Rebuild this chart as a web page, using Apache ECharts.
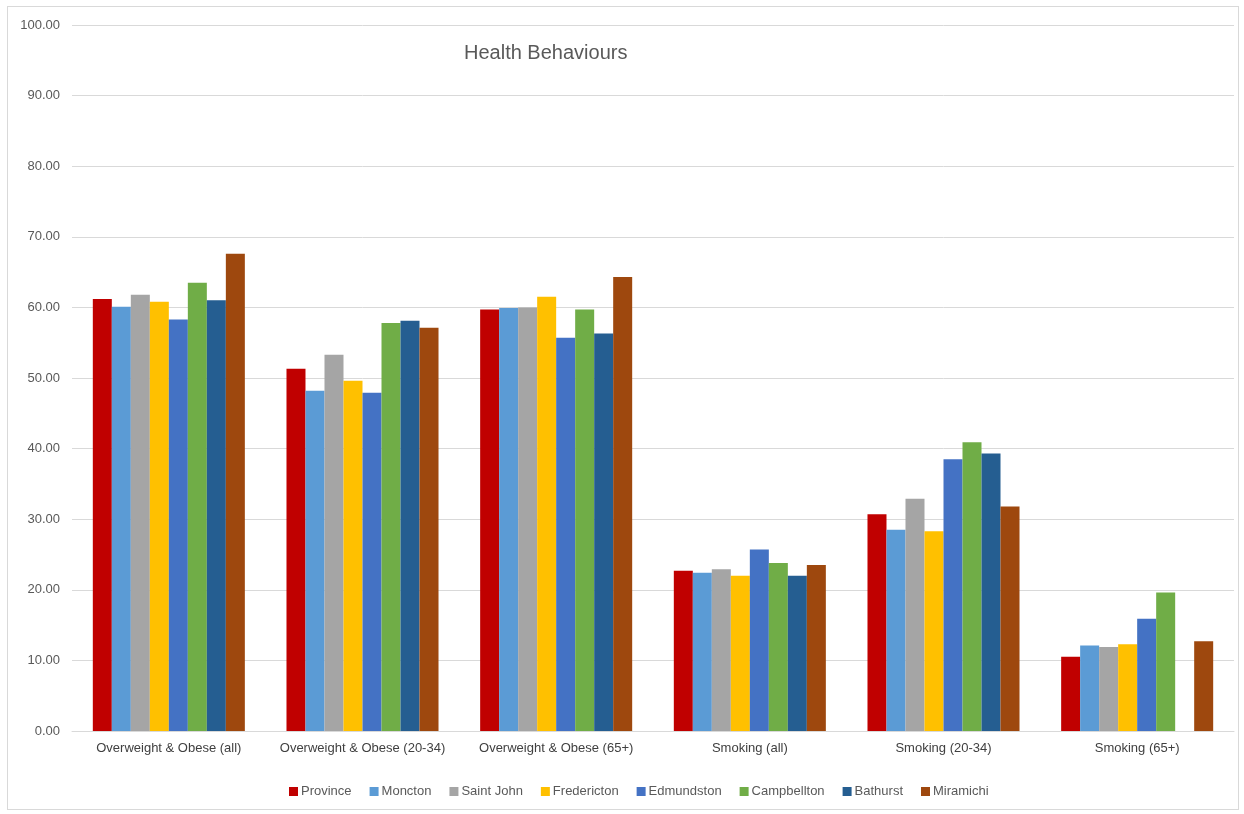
<!DOCTYPE html>
<html>
<head>
<meta charset="utf-8">
<script src="https://cdn.jsdelivr.net/npm/echarts@6/dist/echarts.min.js"></script>
<style>
  html, body { margin: 0; padding: 0; background: #fff; }
  #frame { position: absolute; left: 7px; top: 6px; width: 1232px; height: 804px; border: 1px solid #d9d9d9; box-sizing: border-box; }
  #echart { position: absolute; left: 0; top: 0; width: 1244px; height: 814px; }
</style>
</head>
<body>
<div id="frame"></div>
<div id="echart"></div>
<script type="text/javascript">
var categories = ['Overweight & Obese (all)', 'Overweight & Obese (20-34)', 'Overweight & Obese (65+)', 'Smoking (all)', 'Smoking (20-34)', 'Smoking (65+)'];
var yTicks = [0, 100, 10];   // min, max, interval

var province    = [61.2, 51.3, 59.7, 22.7, 30.7, 10.5];
var moncton     = [60.1, 48.2, 59.9, 22.4, 28.5, 12.1];
var saintJohn   = [61.8, 53.3, 60.0, 22.9, 32.9, 11.9];
var fredericton = [60.8, 49.6, 61.5, 22.0, 28.3, 12.3];
var edmundston  = [58.3, 47.9, 55.7, 25.7, 38.5, 15.9];
var campbellton = [63.5, 57.8, 59.7, 23.8, 40.9, 19.6];
var bathurst    = [61.0, 58.1, 56.3, 22.0, 39.3, null];
var miramichi   = [67.6, 57.1, 64.3, 23.5, 31.8, 12.7];

var seriesList = [
  { name: 'Province', data: province, color: '#C00000' },
  { name: 'Moncton', data: moncton, color: '#5B9BD5' },
  { name: 'Saint John', data: saintJohn, color: '#A5A5A5' },
  { name: 'Fredericton', data: fredericton, color: '#FFC000' },
  { name: 'Edmundston', data: edmundston, color: '#4472C4' },
  { name: 'Campbellton', data: campbellton, color: '#70AD47' },
  { name: 'Bathurst', data: bathurst, color: '#255E91' },
  { name: 'Miramichi', data: miramichi, color: '#9E480E' }
];

var myChart = echarts.init(document.getElementById('echart'));
var fontFam = '"Liberation Sans", Arial, sans-serif';

var option = {
  animation: false,
  textStyle: { fontFamily: fontFam },
  title: {
    text: 'Health Behaviours',
    left: 459,
    top: 38,
    textStyle: { fontSize: 20, fontWeight: 'normal', color: '#595959', fontFamily: fontFam }
  },
  legend: {
    bottom: 11,
    left: 284,
    itemWidth: 9,
    itemHeight: 9,
    itemGap: 18,
    icon: 'rect',
    textStyle: { fontSize: 13, color: '#595959', fontFamily: fontFam, padding: [0, 0, 0, -2] },
    data: seriesList.map(function (s) { return s.name; })
  },
  grid: { left: 72, right: 10, top: 25, bottom: 83, containLabel: false },
  xAxis: {
    type: 'category',
    data: categories,
    axisLine: { show: true, lineStyle: { color: '#d9d9d9' } },
    axisTick: { show: false },
    axisLabel: { color: '#404040', fontSize: 13, margin: 11, interval: 0, fontFamily: fontFam }
  },
  yAxis: {
    type: 'value',
    min: yTicks[0],
    max: yTicks[1],
    interval: yTicks[2],
    axisLine: { show: false },
    axisTick: { show: false },
    splitLine: { lineStyle: { color: '#d9d9d9' } },
    axisLabel: {
      color: '#595959', fontSize: 13, margin: 12, fontFamily: fontFam,
      formatter: function (v) { return v.toFixed(2); }
    }
  },
  series: seriesList.map(function (s) {
    return {
      name: s.name,
      type: 'bar',
      data: s.data,
      barGap: '0%',
      barCategoryGap: '21.5%',
      itemStyle: { color: s.color }
    };
  })
};
myChart.setOption(option);
</script>
</body>
</html>
